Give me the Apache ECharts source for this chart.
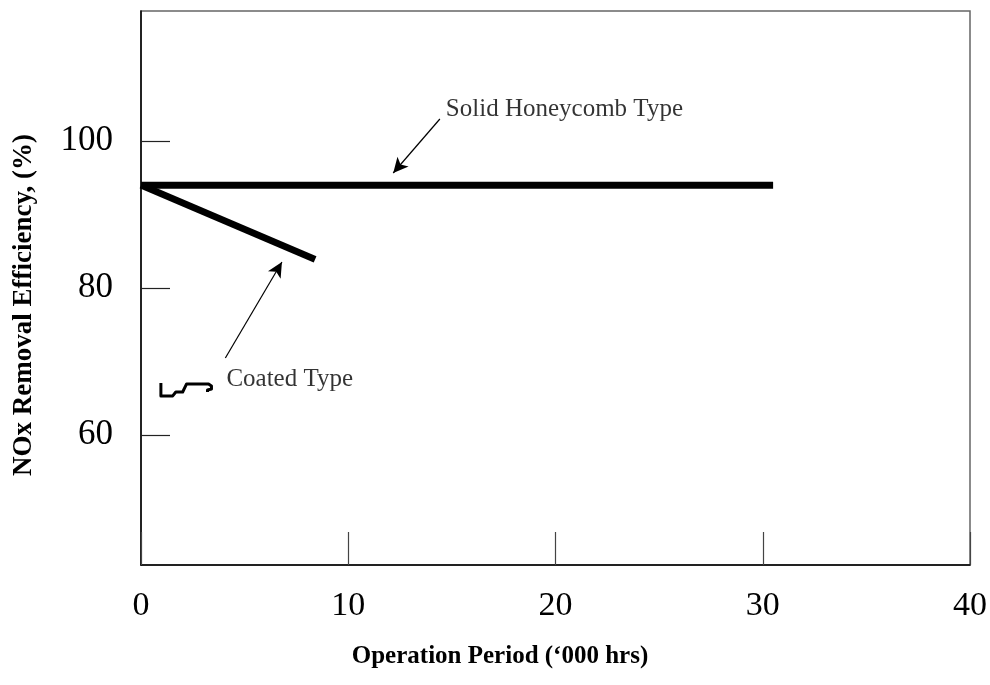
<!DOCTYPE html>
<html>
<head>
<meta charset="utf-8">
<script src="https://cdn.jsdelivr.net/npm/echarts@6/dist/echarts.min.js"></script>
<style>
  html, body { margin: 0; padding: 0; background: #fff; }
</style>
</head>
<body>
<div id="main" style="width: 990px; height: 685px"></div>
<script>
// x = operation period ('000 hrs), y = NOx removal efficiency (%)
var xTicks = [0, 10, 20, 30, 40];
var yTicks = [60, 80, 100];

var honeycombX = [0, 30.5];
var honeycombY = [94.0, 94.0];

var coatedX = [0, 8.4];
var coatedY = [94.0, 83.9];

// little hand drawn squiggle next to "Coated Type"
var squiggleX = [0.96, 0.96, 1.53, 1.68, 2.01, 2.2, 3.26, 3.4, 3.4, 3.21, 3.21];
var squiggleY = [67.07, 65.31, 65.31, 65.85, 65.85, 66.94, 66.94, 66.67, 66.26, 66.12, 65.85];

var labelTexts = ["Solid Honeycomb Type", "Coated Type"];
var labelX = [14.71, 4.12];
var labelY = [104.3, 67.5];

// arrows: tail -> tip
var arrowTail = [[14.42, 103.0], [4.07, 70.48]];
var arrowTip = [[12.17, 95.65], [6.8, 83.54]];

var serif = "'Liberation Serif', 'Times New Roman', serif";

function pairs(xs, ys) {
  var out = [];
  for (var i = 0; i < xs.length; i++) out.push([xs[i], ys[i]]);
  return out;
}

var chartDom = document.getElementById("main");
var myChart = echarts.init(chartDom);
var option;

var arrowLines = [];
for (var i = 0; i < arrowTail.length; i++) {
  arrowLines.push([{ coord: arrowTail[i] }, { coord: arrowTip[i] }]);
}

var labelData = [];
for (var j = 0; j < labelTexts.length; j++) {
  labelData.push({ value: [labelX[j], labelY[j]], name: labelTexts[j] });
}

option = {
  animation: false,
  backgroundColor: "#fff",
  grid: {
    left: 141,
    right: 14,
    top: 11,
    bottom: 120,
    show: true,
    borderColor: "#666",
    borderWidth: 1.5,
  },
  xAxis: {
    type: "value",
    min: xTicks[0],
    max: xTicks[xTicks.length - 1],
    interval: 10,
    splitLine: { show: false },
    axisLine: { lineStyle: { color: "#000", width: 1.5 } },
    axisTick: { inside: true, length: 33, lineStyle: { color: "#444", width: 1.2 } },
    axisLabel: { color: "#000", fontSize: 34, fontFamily: serif, margin: 24 },
  },
  yAxis: {
    type: "value",
    min: 42.3,
    max: 117.7,
    splitLine: { show: false },
    axisLine: { show: true, lineStyle: { color: "#000", width: 1.5 } },
    axisTick: { inside: true, length: 29, customValues: yTicks, lineStyle: { color: "#222", width: 1.2 } },
    axisLabel: { color: "#000", fontSize: 35, fontFamily: serif, margin: 28, customValues: yTicks },
  },
  graphic: [
    {
      type: "text",
      x: 500,
      y: 657,
      style: {
        text: "Operation Period (\u2018000 hrs)",
        fill: "#000",
        font: "bold 25px " + serif,
        align: "center",
        verticalAlign: "middle",
      },
    },
    {
      type: "text",
      x: 24,
      y: 305,
      rotation: Math.PI / 2,
      style: {
        text: "NOx Removal Efficiency, (%)",
        fill: "#000",
        font: "bold 27px " + serif,
        align: "center",
        verticalAlign: "middle",
      },
    },
  ],
  series: [
    {
      name: "Solid Honeycomb Type",
      type: "line",
      data: pairs(honeycombX, honeycombY),
      symbol: "none",
      lineStyle: { color: "#000", width: 7 },
    },
    {
      name: "Coated Type",
      type: "line",
      data: pairs(coatedX, coatedY),
      symbol: "none",
      lineStyle: { color: "#000", width: 7 },
    },
    {
      name: "squiggle",
      type: "line",
      data: pairs(squiggleX, squiggleY),
      symbol: "none",
      lineStyle: { color: "#000", width: 3, join: "round" },
    },
    {
      name: "labels",
      type: "scatter",
      data: labelData,
      symbolSize: 0,
      label: {
        show: true,
        position: "right",
        distance: 0,
        formatter: "{b}",
        color: "#000",
        fontSize: 25,
        fontFamily: serif,
      },
      markLine: {
        silent: true,
        symbol: ["none", "arrow"],
        symbolSize: [11, 15],
        label: { show: false },
        lineStyle: { color: "#000", width: 1.2, type: "solid" },
        data: arrowLines,
      },
    },
  ],
};

option && myChart.setOption(option);
</script>
</body>
</html>
